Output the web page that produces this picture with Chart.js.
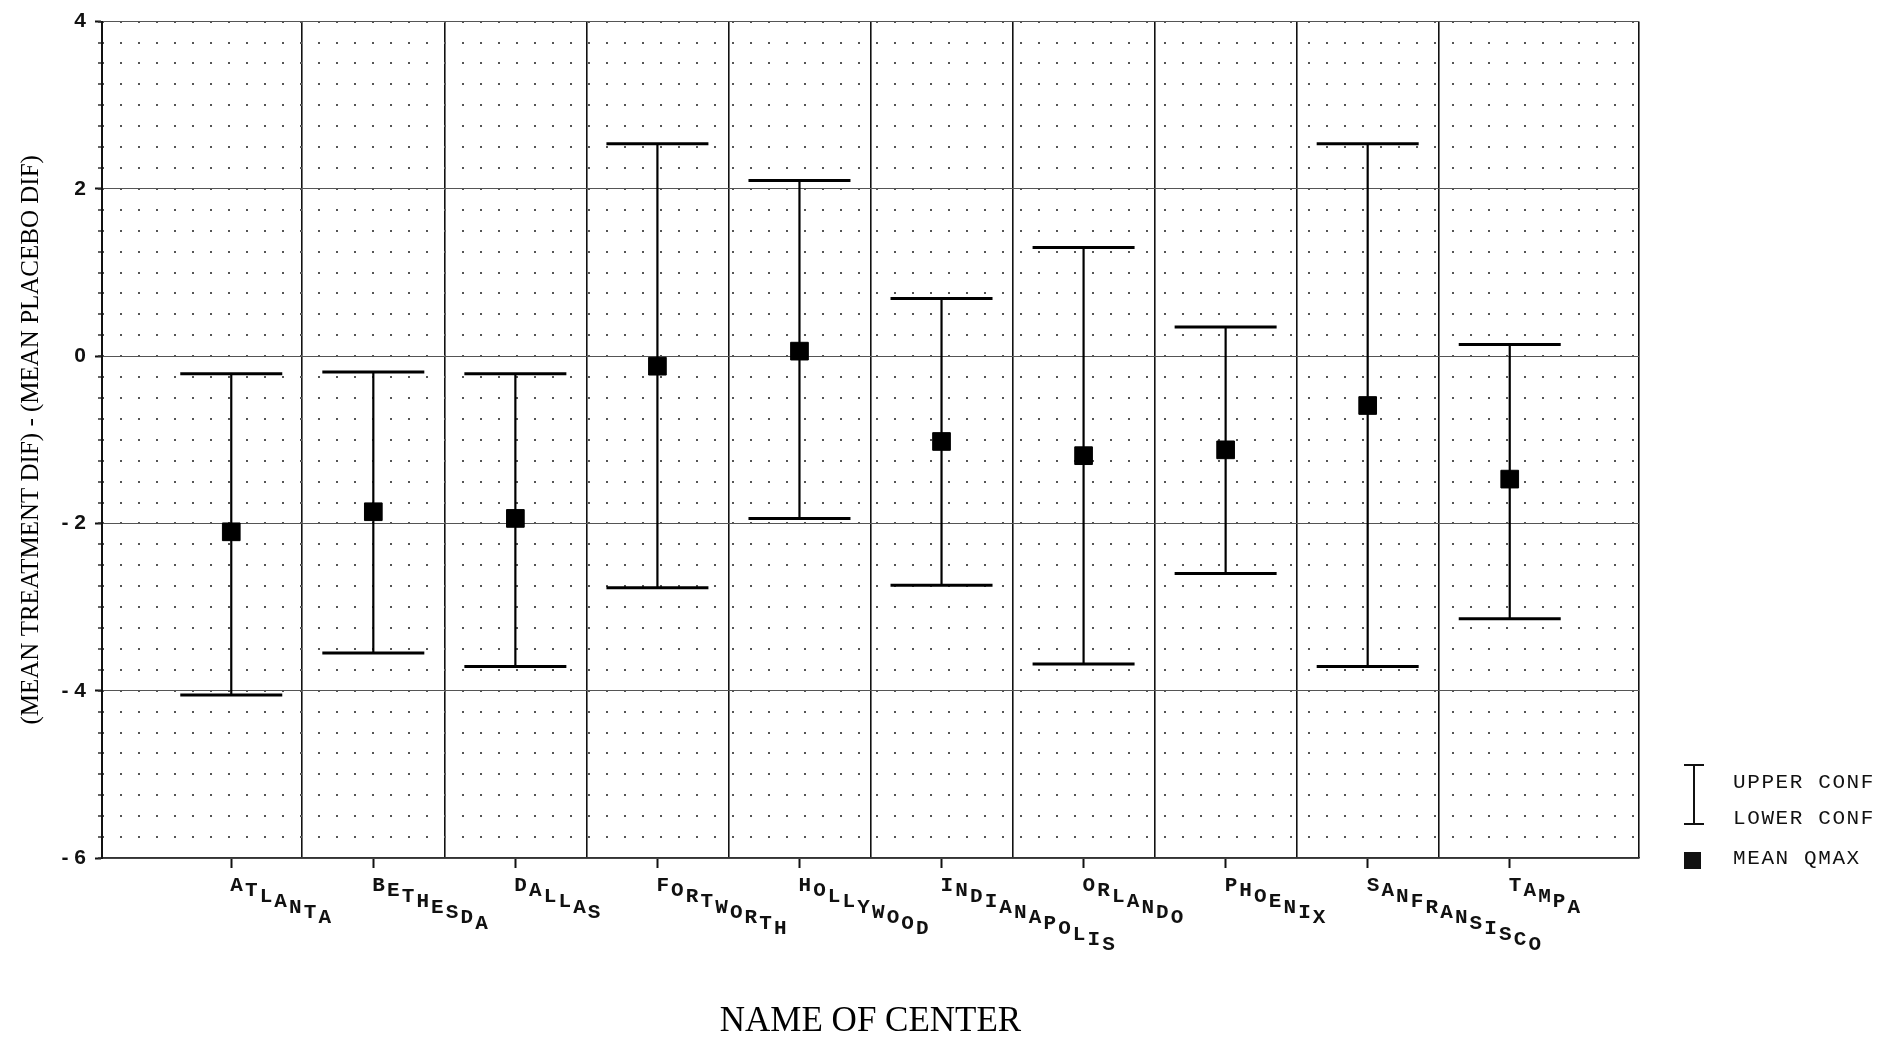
<!DOCTYPE html>
<html>
<head>
<meta charset="utf-8">
<script src="https://cdn.jsdelivr.net/npm/chart.js@4.4.1/dist/chart.umd.min.js"></script>
<style>
  html, body { margin: 0; padding: 0; background: #ffffff; }
  canvas { display: block; }
</style>
</head>
<body>
<canvas id="c" width="1879" height="1039"></canvas>
<script>
// ---- data ----
const categories = ['ATLANTA','BETHESDA','DALLAS','FORTWORTH','HOLLYWOOD','INDIANAPOLIS','ORLANDO','PHOENIX','SANFRANSISCO','TAMPA'];
const upperConf = [-0.21, -0.19, -0.21, 2.54, 2.10, 0.69, 1.30, 0.35, 2.54, 0.14];
const meanQmax  = [-2.10, -1.86, -1.94, -0.12, 0.06, -1.02, -1.19, -1.12, -0.59, -1.47];
const lowerConf = [-4.05, -3.55, -3.71, -2.77, -1.94, -2.74, -3.68, -2.60, -3.71, -3.14];
const yTickValues = [-6, -4, -2, 0, 2, 4];
const legendLabels = ['UPPER CONF', 'LOWER CONF', 'MEAN QMAX'];
const yTitle = '(MEAN TREATMENT DIF) - (MEAN PLACEBO DIF)';
const xTitle = 'NAME OF CENTER';

// ---- derived structures for the library ----
const xPos = categories.map((_, i) => i + 1);
const meanPts = xPos.map((x, i) => ({x, y: meanQmax[i]}));
const upperPts = xPos.map((x, i) => ({x, y: upperConf[i]}));
const lowerPts = xPos.map((x, i) => ({x, y: lowerConf[i]}));
const stemPts = [];
xPos.forEach((x, i) => {
  stemPts.push({x, y: lowerConf[i]});
  stemPts.push({x, y: upperConf[i]});
  stemPts.push({x, y: null});
});

const X_MIN = 0.09, X_MAX = 10.91;

// category labels with staggered letters, and custom legend
const labelPlugin = {
  id: 'staggerLabels',
  afterDraw(chart) {
    const ctx = chart.ctx;
    const xs = chart.scales.x;
    ctx.save();
    ctx.fillStyle = '#111';
    ctx.font = 'bold 21px "Liberation Mono", "DejaVu Sans Mono", monospace';
    ctx.textBaseline = 'alphabetic';
    ctx.textAlign = 'left';
    categories.forEach((name, i) => {
      const x0 = xs.getPixelForValue(xPos[i]) - 1;
      const base = xs.top + 33;
      for (let j = 0; j < name.length; j++) {
        ctx.fillText(name[j], x0 + j * 14.7, base + j * 5.4);
      }
    });
    ctx.restore();

    // legend
    const ca = chart.chartArea;
    const lx = ca.right + 55;
    const tx = ca.right + 94;
    ctx.save();
    ctx.strokeStyle = '#111';
    ctx.fillStyle = '#111';
    ctx.lineWidth = 2;
    ctx.beginPath();
    ctx.moveTo(lx, ca.bottom - 93); ctx.lineTo(lx, ca.bottom - 34);
    ctx.moveTo(lx - 10, ca.bottom - 93); ctx.lineTo(lx + 10, ca.bottom - 93);
    ctx.moveTo(lx - 10, ca.bottom - 34); ctx.lineTo(lx + 10, ca.bottom - 34);
    ctx.stroke();
    ctx.fillRect(lx - 10, ca.bottom - 6, 17, 17);
    ctx.font = '21px "Liberation Mono", "DejaVu Sans Mono", monospace';
    ctx.letterSpacing = '1.6px';
    ctx.textBaseline = 'middle';
    ctx.textAlign = 'left';
    ctx.fillText(legendLabels[0], tx, ca.bottom - 76);
    ctx.fillText(legendLabels[1], tx, ca.bottom - 40);
    ctx.fillText(legendLabels[2], tx, ca.bottom);
    ctx.restore();
  }
};

new Chart(document.getElementById('c'), {
  type: 'scatter',
  data: {
    datasets: [
      {
        label: 'MEAN QMAX',
        data: meanPts,
        pointStyle: 'rect',
        pointRadius: 12.5,
        pointBackgroundColor: '#000',
        pointBorderColor: '#000',
        pointBorderWidth: 1,
        showLine: false
      },
      {
        label: 'UPPER CONF',
        data: upperPts,
        pointStyle: 'line',
        pointRadius: 51,
        pointBorderColor: '#000',
        pointBorderWidth: 3,
        showLine: false
      },
      {
        label: 'LOWER CONF',
        data: lowerPts,
        pointStyle: 'line',
        pointRadius: 51,
        pointBorderColor: '#000',
        pointBorderWidth: 3,
        showLine: false
      },
      {
        type: 'line',
        label: 'stem',
        data: stemPts,
        borderColor: '#000',
        borderWidth: 2.2,
        pointRadius: 0,
        spanGaps: false,
        fill: false,
        tension: 0
      }
    ]
  },
  options: {
    responsive: false,
    animation: false,
    events: [],
    layout: { autoPadding: false, padding: { left: 0, top: 16, right: 240, bottom: 0 } },
    plugins: {
      legend: { display: false },
      tooltip: { enabled: false }
    },
    scales: {
      x: {
        type: 'linear',
        position: 'bottom',
        weight: 1,
        min: X_MIN, max: X_MAX,
        afterBuildTicks: (s) => { s.ticks = xPos.map(v => ({value: v})); },
        afterFit: (s) => { s.height = 181; },
        ticks: { display: false },
        grid: { drawOnChartArea: false, drawTicks: true, tickLength: 10, tickWidth: 2, tickColor: '#111' },
        border: { display: true, color: '#333', width: 1.5 },
        title: {
          display: true, text: xTitle, color: '#000',
          font: { family: '"Liberation Serif", "DejaVu Serif", serif', size: 35, lineHeight: 1 },
          padding: { top: 0, bottom: 0 }
        }
      },
      x2: {
        type: 'linear',
        position: 'bottom',
        weight: 0,
        min: X_MIN, max: X_MAX,
        afterBuildTicks: (s) => {
          const t = xPos.slice(0, -1).map(v => ({value: v + 0.5}));
          t.push({value: X_MAX});
          s.ticks = t;
        },
        afterFit: (s) => { s.height = 0; },
        ticks: { display: false },
        grid: { drawOnChartArea: true, drawTicks: false, color: '#111', lineWidth: 1.6 },
        border: { display: false }
      },
      y: {
        type: 'linear',
        position: 'left',
        weight: 1,
        min: -6, max: 4,
        afterBuildTicks: (s) => { s.ticks = yTickValues.map(v => ({value: v})); },
        afterFit: (s) => { s.width = 102; },
        ticks: {
          color: '#111',
          padding: 9,
          font: { family: '"Liberation Sans", Arial, sans-serif', size: 21, weight: 'bold' },
          callback: (v) => (v < 0 ? '- ' + Math.abs(v) : String(v))
        },
        grid: { drawOnChartArea: true, color: '#555', lineWidth: 1, tickLength: 7, tickWidth: 2, tickColor: '#111' },
        border: { display: true, color: '#111', width: 2 },
        title: {
          display: true, text: yTitle, color: '#000',
          font: { family: '"Liberation Serif", "DejaVu Serif", serif', size: 25 },
          padding: { top: 16, bottom: 0 }
        }
      },
      yMinor: {
        type: 'linear',
        position: 'left',
        weight: 0,
        min: -6, max: 4,
        ticks: { display: false, stepSize: 0.25 },
        afterFit: (s) => { s.width = 0; },
        grid: {
          drawOnChartArea: true, drawTicks: true, tickLength: 4, tickWidth: 1.5, tickColor: '#333',
          color: '#555', lineWidth: 2
        },
        border: { display: false, dash: [2, 16] }
      }
    }
  },
  plugins: [labelPlugin]
});
</script>
</body>
</html>
